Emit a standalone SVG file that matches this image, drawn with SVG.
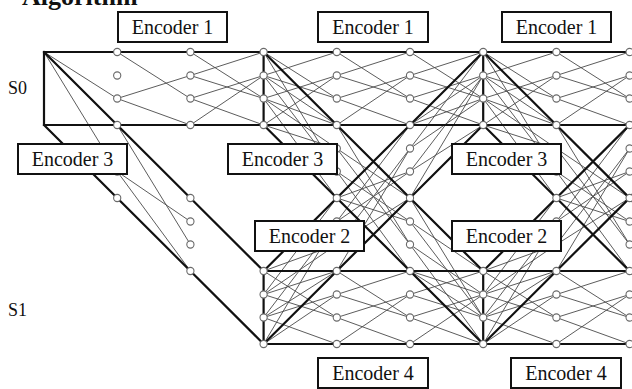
<svg xmlns="http://www.w3.org/2000/svg" width="632" height="389" viewBox="0 0 632 389">
<style>
.thin{fill:none;stroke:#4a4a4a;stroke-width:0.9}
.thick{fill:none;stroke:#111;stroke-width:2.2;stroke-linecap:square}
.n circle{fill:#fff;stroke:#6a6a6a;stroke-width:1.1}
.box rect{fill:#fff;stroke:#111;stroke-width:2}
.box text{font-family:"Liberation Serif","DejaVu Serif",serif;font-size:20px;fill:#111;text-anchor:middle}
.lab{font-family:"Liberation Serif","DejaVu Serif",serif;font-size:18px;fill:#111}
</style>
<defs>
<path id="bf" d="M0 0L73.2 46.5M0 23.5L73.2 0M0 23.5L73.2 46.5M0 46.5L73.2 23.5M0 46.5L73.2 73M0 73L73.2 23.5"/>
<path id="bd" d="M0 0L73.2 119.5M0 23.5L73.2 73M0 23.5L73.2 119.5M0 46.5L73.2 96.5M0 46.5L73.2 146M0 73L73.2 96.5"/>
<path id="bu" d="M0 0L73.2 -26.5M0 23.5L73.2 -73M0 23.5L73.2 -26.5M0 46.5L73.2 -49.5M0 46.5L73.2 0M0 73L73.2 -49.5"/>
</defs>
<rect width="632" height="389" fill="#fff"/>
<text x="22" y="5" font-family="Liberation Serif, serif" font-weight="bold" font-size="26" fill="#111">Algorithm</text>
<text class="lab" x="8" y="93.5">S0</text>
<text class="lab" x="8" y="316">S1</text>
<g id="connectors">
<g class="thin">
<path d="M44 52L117.2 98.5M117.2 52L190.4 98.5M117.2 98.5L190.4 75.5M117.2 98.5L190.4 125M44 52L117.2 171.5M117.2 125L190.4 244.5M117.2 171.5L190.4 221.5M117.2 171.5L190.4 271"/>
<use href="#bf" transform="translate(190.4,52)"/>
<use href="#bf" transform="translate(263.6,52)"/>
<use href="#bf" transform="translate(336.8,52)"/>
<use href="#bf" transform="translate(410,52)"/>
<use href="#bf" transform="translate(483.2,52)"/>
<use href="#bf" transform="translate(556.4,52)"/>
<use href="#bf" transform="translate(629.6,52)"/>
<use href="#bf" transform="translate(263.6,271)"/>
<use href="#bf" transform="translate(336.8,271)"/>
<use href="#bf" transform="translate(410,271)"/>
<use href="#bf" transform="translate(483.2,271)"/>
<use href="#bf" transform="translate(556.4,271)"/>
<use href="#bf" transform="translate(629.6,271)"/>
<use href="#bd" transform="translate(263.6,52)"/>
<use href="#bd" transform="translate(336.8,125)"/>
<use href="#bd" transform="translate(410,198)"/>
<use href="#bu" transform="translate(263.6,271)"/>
<use href="#bu" transform="translate(336.8,198)"/>
<use href="#bu" transform="translate(410,125)"/>
<use href="#bd" transform="translate(483.2,52)"/>
<use href="#bd" transform="translate(556.4,125)"/>
<use href="#bd" transform="translate(629.6,198)"/>
<use href="#bu" transform="translate(483.2,271)"/>
<use href="#bu" transform="translate(556.4,198)"/>
<use href="#bu" transform="translate(629.6,125)"/>
</g>
<path class="thick" d="M44 52H640M44 125H640M44 52V125M263.6 271H640M263.6 344H640M263.6 52V125M263.6 271V344M483.2 52V125M483.2 271V344M44 52L263.6 271M44 125L263.6 344M263.6 52L483.2 271M263.6 125L483.2 344M483.2 52L263.6 271M483.2 125L263.6 344M483.2 52L702.8 271M483.2 125L702.8 344M702.8 52L483.2 271M702.8 125L483.2 344"/>
</g>
<g id="n-1-0" class="n"><circle cx="117.2" cy="52" r="3.6"/></g>
<g id="n-1-1" class="n"><circle cx="117.2" cy="75.5" r="3.6"/></g>
<g id="n-1-2" class="n"><circle cx="117.2" cy="98.5" r="3.6"/></g>
<g id="n-1-3" class="n"><circle cx="117.2" cy="125" r="3.6"/></g>
<g id="n-2-0" class="n"><circle cx="190.4" cy="52" r="3.6"/></g>
<g id="n-2-1" class="n"><circle cx="190.4" cy="75.5" r="3.6"/></g>
<g id="n-2-2" class="n"><circle cx="190.4" cy="98.5" r="3.6"/></g>
<g id="n-2-3" class="n"><circle cx="190.4" cy="125" r="3.6"/></g>
<g id="n-3-0" class="n"><circle cx="263.6" cy="52" r="3.6"/></g>
<g id="n-3-1" class="n"><circle cx="263.6" cy="75.5" r="3.6"/></g>
<g id="n-3-2" class="n"><circle cx="263.6" cy="98.5" r="3.6"/></g>
<g id="n-3-3" class="n"><circle cx="263.6" cy="125" r="3.6"/></g>
<g id="n-4-0" class="n"><circle cx="336.8" cy="52" r="3.6"/></g>
<g id="n-4-1" class="n"><circle cx="336.8" cy="75.5" r="3.6"/></g>
<g id="n-4-2" class="n"><circle cx="336.8" cy="98.5" r="3.6"/></g>
<g id="n-4-3" class="n"><circle cx="336.8" cy="125" r="3.6"/></g>
<g id="n-5-0" class="n"><circle cx="410" cy="52" r="3.6"/></g>
<g id="n-5-1" class="n"><circle cx="410" cy="75.5" r="3.6"/></g>
<g id="n-5-2" class="n"><circle cx="410" cy="98.5" r="3.6"/></g>
<g id="n-5-3" class="n"><circle cx="410" cy="125" r="3.6"/></g>
<g id="n-6-0" class="n"><circle cx="483.2" cy="52" r="3.6"/></g>
<g id="n-6-1" class="n"><circle cx="483.2" cy="75.5" r="3.6"/></g>
<g id="n-6-2" class="n"><circle cx="483.2" cy="98.5" r="3.6"/></g>
<g id="n-6-3" class="n"><circle cx="483.2" cy="125" r="3.6"/></g>
<g id="n-7-0" class="n"><circle cx="556.4" cy="52" r="3.6"/></g>
<g id="n-7-1" class="n"><circle cx="556.4" cy="75.5" r="3.6"/></g>
<g id="n-7-2" class="n"><circle cx="556.4" cy="98.5" r="3.6"/></g>
<g id="n-7-3" class="n"><circle cx="556.4" cy="125" r="3.6"/></g>
<g id="n-8-0" class="n"><circle cx="629.6" cy="52" r="3.6"/></g>
<g id="n-8-1" class="n"><circle cx="629.6" cy="75.5" r="3.6"/></g>
<g id="n-8-2" class="n"><circle cx="629.6" cy="98.5" r="3.6"/></g>
<g id="n-8-3" class="n"><circle cx="629.6" cy="125" r="3.6"/></g>
<g id="m-1-1" class="n"><circle cx="117.2" cy="148.5" r="3.6"/></g>
<g id="m-1-2" class="n"><circle cx="117.2" cy="171.5" r="3.6"/></g>
<g id="m-1-3" class="n"><circle cx="117.2" cy="198" r="3.6"/></g>
<g id="m-2-0" class="n"><circle cx="190.4" cy="198" r="3.6"/></g>
<g id="m-2-1" class="n"><circle cx="190.4" cy="221.5" r="3.6"/></g>
<g id="m-2-2" class="n"><circle cx="190.4" cy="244.5" r="3.6"/></g>
<g id="m-2-3" class="n"><circle cx="190.4" cy="271" r="3.6"/></g>
<g id="m-4-1" class="n"><circle cx="336.8" cy="148.5" r="3.6"/></g>
<g id="m-4-2" class="n"><circle cx="336.8" cy="171.5" r="3.6"/></g>
<g id="m-4-3" class="n"><circle cx="336.8" cy="198" r="3.6"/></g>
<g id="m-4-4" class="n"><circle cx="336.8" cy="221.5" r="3.6"/></g>
<g id="m-4-5" class="n"><circle cx="336.8" cy="244.5" r="3.6"/></g>
<g id="m-5-1" class="n"><circle cx="410" cy="148.5" r="3.6"/></g>
<g id="m-5-2" class="n"><circle cx="410" cy="171.5" r="3.6"/></g>
<g id="m-5-3" class="n"><circle cx="410" cy="198" r="3.6"/></g>
<g id="m-5-4" class="n"><circle cx="410" cy="221.5" r="3.6"/></g>
<g id="m-5-5" class="n"><circle cx="410" cy="244.5" r="3.6"/></g>
<g id="m-7-1" class="n"><circle cx="556.4" cy="148.5" r="3.6"/></g>
<g id="m-7-2" class="n"><circle cx="556.4" cy="171.5" r="3.6"/></g>
<g id="m-7-3" class="n"><circle cx="556.4" cy="198" r="3.6"/></g>
<g id="m-7-4" class="n"><circle cx="556.4" cy="221.5" r="3.6"/></g>
<g id="m-7-5" class="n"><circle cx="556.4" cy="244.5" r="3.6"/></g>
<g id="m-8-1" class="n"><circle cx="629.6" cy="148.5" r="3.6"/></g>
<g id="m-8-2" class="n"><circle cx="629.6" cy="171.5" r="3.6"/></g>
<g id="m-8-3" class="n"><circle cx="629.6" cy="198" r="3.6"/></g>
<g id="m-8-4" class="n"><circle cx="629.6" cy="221.5" r="3.6"/></g>
<g id="m-8-5" class="n"><circle cx="629.6" cy="244.5" r="3.6"/></g>
<g id="s-3-0" class="n"><circle cx="263.6" cy="271" r="3.6"/></g>
<g id="s-3-1" class="n"><circle cx="263.6" cy="294.5" r="3.6"/></g>
<g id="s-3-2" class="n"><circle cx="263.6" cy="317.5" r="3.6"/></g>
<g id="s-3-3" class="n"><circle cx="263.6" cy="344" r="3.6"/></g>
<g id="s-4-0" class="n"><circle cx="336.8" cy="271" r="3.6"/></g>
<g id="s-4-1" class="n"><circle cx="336.8" cy="294.5" r="3.6"/></g>
<g id="s-4-2" class="n"><circle cx="336.8" cy="317.5" r="3.6"/></g>
<g id="s-4-3" class="n"><circle cx="336.8" cy="344" r="3.6"/></g>
<g id="s-5-0" class="n"><circle cx="410" cy="271" r="3.6"/></g>
<g id="s-5-1" class="n"><circle cx="410" cy="294.5" r="3.6"/></g>
<g id="s-5-2" class="n"><circle cx="410" cy="317.5" r="3.6"/></g>
<g id="s-5-3" class="n"><circle cx="410" cy="344" r="3.6"/></g>
<g id="s-6-0" class="n"><circle cx="483.2" cy="271" r="3.6"/></g>
<g id="s-6-1" class="n"><circle cx="483.2" cy="294.5" r="3.6"/></g>
<g id="s-6-2" class="n"><circle cx="483.2" cy="317.5" r="3.6"/></g>
<g id="s-6-3" class="n"><circle cx="483.2" cy="344" r="3.6"/></g>
<g id="s-7-0" class="n"><circle cx="556.4" cy="271" r="3.6"/></g>
<g id="s-7-1" class="n"><circle cx="556.4" cy="294.5" r="3.6"/></g>
<g id="s-7-2" class="n"><circle cx="556.4" cy="317.5" r="3.6"/></g>
<g id="s-7-3" class="n"><circle cx="556.4" cy="344" r="3.6"/></g>
<g id="s-8-0" class="n"><circle cx="629.6" cy="271" r="3.6"/></g>
<g id="s-8-1" class="n"><circle cx="629.6" cy="294.5" r="3.6"/></g>
<g id="s-8-2" class="n"><circle cx="629.6" cy="317.5" r="3.6"/></g>
<g id="s-8-3" class="n"><circle cx="629.6" cy="344" r="3.6"/></g>
<g id="enc1-a" class="box"><rect x="118" y="12" width="109" height="30"/><text x="172.5" y="33.5">Encoder 1</text></g>
<g id="enc1-b" class="box"><rect x="318" y="12" width="110" height="30"/><text x="373" y="33.5">Encoder 1</text></g>
<g id="enc1-c" class="box"><rect x="502" y="12" width="109" height="30"/><text x="556.5" y="33.5">Encoder 1</text></g>
<g id="enc3-a" class="box"><rect x="18" y="144" width="109" height="30"/><text x="72.5" y="165.5">Encoder 3</text></g>
<g id="enc3-b" class="box"><rect x="228" y="144" width="109" height="30"/><text x="282.5" y="165.5">Encoder 3</text></g>
<g id="enc3-c" class="box"><rect x="452" y="144" width="109" height="30"/><text x="506.5" y="165.5">Encoder 3</text></g>
<g id="enc2-a" class="box"><rect x="255" y="221" width="109" height="30"/><text x="309.5" y="242.5">Encoder 2</text></g>
<g id="enc2-b" class="box"><rect x="452" y="221" width="109" height="30"/><text x="506.5" y="242.5">Encoder 2</text></g>
<g id="enc4-a" class="box"><rect x="318" y="358" width="110" height="30"/><text x="373" y="379.5">Encoder 4</text></g>
<g id="enc4-b" class="box"><rect x="511" y="358" width="110" height="30"/><text x="566" y="379.5">Encoder 4</text></g>
</svg>
